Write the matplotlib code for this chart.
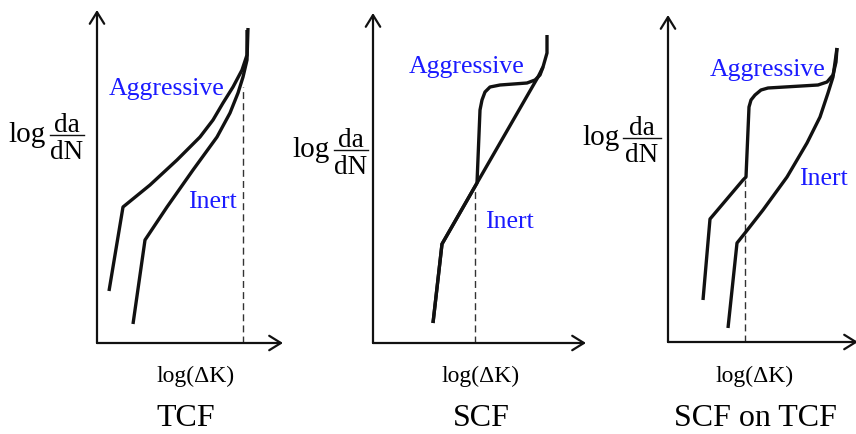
import matplotlib.pyplot as plt

plt.rcParams['font.family'] = ['Liberation Serif', 'DejaVu Serif']

W, H = 856, 434
INK = '#111111'
BLUE = '#1a1aff'

# curve data, arbitrary log units measured from each panel's origin
# TCF: aggressive curve lies above inert across the whole range
tcf_aggr_k = [1.2, 2.6, 5.3, 8.0, 10.3, 11.6, 12.6, 13.6, 14.5, 15.0, 15.0]
tcf_aggr_rate = [5.2, 13.6, 15.8, 18.3, 20.6, 22.3, 24.0, 25.6, 27.3, 28.8, 31.3]
tcf_inert_k = [3.6, 4.8, 7.0, 9.6, 12.0, 13.3, 14.1, 14.6, 15.0, 15.1]
tcf_inert_rate = [1.9, 10.3, 13.6, 17.3, 20.6, 23.0, 25.0, 26.6, 28.3, 31.5]
tcf_kc = 14.6
tcf_kc_top = 25.6

# SCF: curves split at the threshold and rejoin near the top
scf_inert_k = [6.0, 6.9, 10.4, 16.5, 17.0, 17.4, 17.4, 17.4]
scf_inert_rate = [2.0, 9.9, 16.0, 26.6, 27.6, 29.0, 30.0, 30.8]
scf_aggr_k = [6.0, 6.9, 10.4, 10.7, 10.9, 11.2, 11.7, 12.7, 15.4, 16.2, 16.7, 17.0]
scf_aggr_rate = [2.0, 9.9, 16.0, 23.3, 24.3, 25.1, 25.6, 25.8, 26.0, 26.3, 26.8, 27.6]
scf_kth = 10.2
scf_kth_top = 15.3

# SCF on TCF
both_aggr_k = [3.5, 4.2, 7.5, 7.8, 8.1, 8.3, 8.7, 9.3, 10.0, 15.0, 15.9, 16.5, 16.8, 16.9]
both_aggr_rate = [4.2, 12.3, 16.2, 16.5, 23.5, 24.2, 24.7, 25.2, 25.4, 25.7, 26.0, 26.7, 28.0, 29.4]
both_inert_k = [6.0, 6.9, 7.7, 9.5, 11.9, 13.9, 15.2, 16.0, 16.5, 16.9]
both_inert_rate = [1.4, 9.9, 10.9, 13.2, 16.5, 19.9, 22.5, 24.9, 26.5, 29.4]
both_kth = 7.7
both_kth_top = 16.2

titles = ['TCF', 'SCF', 'SCF on TCF']
x_label = 'log(ΔK)'

fig = plt.figure(figsize=(W / 100, H / 100), dpi=100)

# full-figure layer in pixel units for the labels
lay = fig.add_axes([0, 0, 1, 1])
lay.set_xlim(0, W)
lay.set_ylim(H, 0)
lay.axis('off')


def panel(ox, oy, xt, yt):
    ax = fig.add_axes([ox / W, 1 - oy / H, xt * 10 / W, yt * 10 / H])
    ax.set_xlim(0, xt)
    ax.set_ylim(0, yt)
    ax.axis('off')
    style = '->,head_length=0.42,head_width=0.26'
    for tip in [(xt, 0), (0, yt)]:
        ax.annotate('', xy=tip, xytext=(0, 0), annotation_clip=False,
                    arrowprops=dict(arrowstyle=style, lw=1.6, color=INK,
                                    shrinkA=0, shrinkB=0, mutation_scale=20))
    return ax


def curve(ax, k, rate):
    ax.plot(k, rate, color=INK, lw=2.4, solid_joinstyle='round',
            solid_capstyle='butt', clip_on=False, zorder=3)


def marker_line(ax, k, top):
    ax.plot([k, k], [0, top], color='#333333', lw=1.0, ls=(0, (5, 3)),
            clip_on=False, zorder=2)


def rate_label(xl, xf, yline, half):
    lay.text(xl, yline + 7, 'log', fontsize=21, ha='center', va='baseline')
    lay.plot([xf - half, xf + half], [yline, yline], color=INK, lw=1.0)
    lay.text(xf, yline - 3, 'da', fontsize=19.5, ha='center', va='baseline')
    lay.text(xf, yline + 24, 'dN', fontsize=19.5, ha='center', va='baseline')


# TCF
ax1 = panel(97, 343, 18.6, 33.3)
curve(ax1, tcf_aggr_k, tcf_aggr_rate)
curve(ax1, tcf_inert_k, tcf_inert_rate)
marker_line(ax1, tcf_kc, tcf_kc_top)

# SCF
ax2 = panel(373, 343, 21.3, 33.0)
curve(ax2, scf_inert_k, scf_inert_rate)
curve(ax2, scf_aggr_k, scf_aggr_rate)
marker_line(ax2, scf_kth, scf_kth_top)

# SCF on TCF
ax3 = panel(668, 342, 19.0, 32.7)
curve(ax3, both_aggr_k, both_aggr_rate)
curve(ax3, both_inert_k, both_inert_rate)
marker_line(ax3, both_kth, both_kth_top)

# curve names
for x, y in [(167, 95), (467, 73), (768, 76)]:
    lay.text(x, y, 'Aggressive', fontsize=18.5, color=BLUE, ha='center', va='baseline')
for x, y in [(212, 208), (509, 228), (823, 185)]:
    lay.text(x, y, 'Inert', fontsize=18.5, color=BLUE, ha='center', va='baseline')

rate_label(27, 67, 135, 17)
rate_label(311, 351, 150, 17)
rate_label(601, 642, 138, 19)

for x, t in zip([196, 481, 755], titles):
    lay.text(x, 382, x_label, fontsize=17, ha='center', va='baseline')
    lay.text(x - 10 if t == 'TCF' else x, 426, t, fontsize=23, ha='center', va='baseline')

fig.savefig('out.png', dpi=100)
